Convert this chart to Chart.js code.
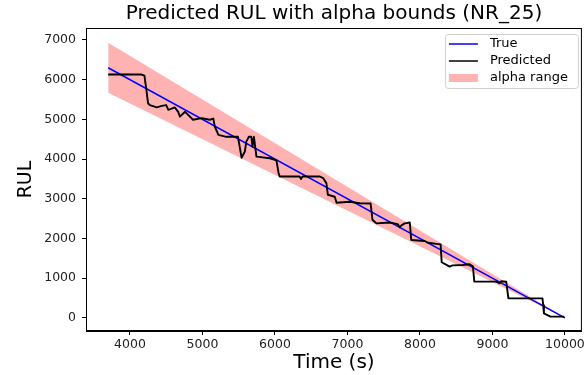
<!DOCTYPE html>
<html>
<head>
<meta charset="utf-8">
<script src="https://cdn.jsdelivr.net/npm/chart.js@4"></script>
<style>
    body { margin: 0; background: #fff; }
    #wrap { width: 587px; height: 375px; }
</style>
</head>
<body>
<div id="wrap"><canvas id="rulChart" width="587" height="375"></canvas></div>
<script>
// values
const predTime = [3700, 4160, 4200, 4230, 4250, 4275, 4370, 4440, 4500, 4530, 4620, 4665, 4690, 4760, 4810, 4870, 4990, 5100, 5150, 5170, 5220, 5330, 5490, 5540, 5585, 5605, 5640, 5675, 5690, 5710, 5745, 5930, 6020, 6050, 6065, 6340, 6360, 6380, 6620, 6665, 6710, 6730, 6825, 6850, 7030, 7170, 7320, 7345, 7400, 7580, 7695, 7720, 7745, 7790, 7860, 7880, 8065, 8110, 8285, 8300, 8410, 8450, 8590, 8685, 8730, 8750, 9050, 9095, 9120, 9190, 9220, 9550, 9690, 9700, 9710, 9800, 9990];
const predRul = [6130, 6130, 6100, 5700, 5400, 5360, 5300, 5340, 5360, 5240, 5300, 5190, 5070, 5190, 5100, 4990, 5030, 4990, 5020, 4820, 4610, 4560, 4560, 4030, 4190, 4440, 4560, 4560, 4310, 4560, 4060, 4020, 3970, 3650, 3560, 3560, 3500, 3560, 3560, 3520, 3390, 3100, 3050, 2900, 2925, 2885, 2880, 2470, 2380, 2400, 2360, 2280, 2330, 2380, 2400, 1960, 1935, 1890, 1850, 1400, 1290, 1320, 1330, 1350, 1300, 910, 910, 870, 920, 910, 490, 490, 490, 320, 110, 30, 30];

const trueTime = [3700, 10000];
const trueRul = [6300, 0];

const bandTime = [3700, 10000];
const bandUpper = [6930, 0];
const bandLower = [5670, 0];

const xTicks = [4000, 5000, 6000, 7000, 8000, 9000, 10000];
const yTicks = [0, 1000, 2000, 3000, 4000, 5000, 6000, 7000];

const FONT = "'DejaVu Sans', sans-serif";

function toPoints(xs, ys) {
    return xs.map((x, i) => ({ x: x, y: ys[i] }));
}

// black frame round the plot area, like matplotlib
const framePlugin = {
    id: 'frame',
    afterDatasetsDraw(chart) {
        const { ctx, chartArea: a } = chart;
        ctx.save();
        ctx.strokeStyle = '#000';
        ctx.lineWidth = 1;
        ctx.strokeRect(a.left + 0.5, a.top + 0.5, a.right - a.left - 1, a.bottom - a.top - 1);
        ctx.restore();
    }
};

// legend box in the upper right corner
const legendPlugin = {
    id: 'boxLegend',
    afterDraw(chart) {
        const { ctx, chartArea: a } = chart;
        const items = [
            { label: 'True', type: 'line', color: '#0000ff' },
            { label: 'Predicted', type: 'line', color: '#000000' },
            { label: 'alpha range', type: 'patch', color: 'rgba(255, 0, 0, 0.3)' }
        ];
        const boxX = a.right - 137;
        const boxY = a.top + 6;
        const boxW = 133;
        const boxH = 54;
        ctx.save();
        ctx.fillStyle = 'rgba(255, 255, 255, 0.8)';
        ctx.strokeStyle = '#d0d0d0';
        ctx.lineWidth = 1;
        ctx.beginPath();
        ctx.roundRect(boxX + 0.5, boxY + 0.5, boxW, boxH, 3);
        ctx.fill();
        ctx.stroke();
        ctx.font = '13px ' + FONT;
        ctx.textBaseline = 'middle';
        items.forEach((item, i) => {
            const y = boxY + 10 + i * 17;
            if (item.type === 'line') {
                ctx.strokeStyle = item.color;
                ctx.lineWidth = 1.5;
                ctx.beginPath();
                ctx.moveTo(boxX + 4, y);
                ctx.lineTo(boxX + 33, y);
                ctx.stroke();
            } else {
                ctx.fillStyle = item.color;
                ctx.fillRect(boxX + 4, y - 4, 29, 8);
            }
            ctx.fillStyle = '#000';
            ctx.fillText(item.label, boxX + 45, y);
        });
        ctx.restore();
    }
};

function renderChart() {
    const ctx = document.getElementById('rulChart').getContext('2d');
    new Chart(ctx, {
        type: 'line',
        data: {
            datasets: [
                {
                    label: 'Predicted',
                    data: toPoints(predTime, predRul),
                    borderColor: '#000',
                    borderWidth: 1.9,
                    borderJoinStyle: 'round',
                    pointRadius: 0,
                    fill: false,
                    order: 0
                },
                {
                    label: 'True',
                    data: toPoints(trueTime, trueRul),
                    borderColor: '#0000ff',
                    borderWidth: 1.5,
                    pointRadius: 0,
                    fill: false,
                    order: 1
                },
                {
                    label: 'alpha lower',
                    data: toPoints(bandTime, bandLower),
                    borderWidth: 0,
                    borderColor: 'rgba(0,0,0,0)',
                    pointRadius: 0,
                    fill: false,
                    order: 3
                },
                {
                    label: 'alpha range',
                    data: toPoints(bandTime, bandUpper),
                    borderWidth: 0,
                    borderColor: 'rgba(0,0,0,0)',
                    backgroundColor: 'rgba(255, 0, 0, 0.3)',
                    pointRadius: 0,
                    fill: '-1',
                    order: 2
                }
            ]
        },
        options: {
            responsive: false,
            animation: false,
            layout: { padding: { left: 0, right: 4, top: 0, bottom: 0 } },
            plugins: {
                legend: { display: false },
                tooltip: { enabled: false },
                title: {
                    display: true,
                    fullSize: false,
                    text: 'Predicted RUL with alpha bounds (NR_25)',
                    color: '#000',
                    font: { family: FONT, size: 20, weight: 'normal' },
                    padding: { top: 2, bottom: 2 }
                }
            },
            scales: {
                x: {
                    type: 'linear',
                    min: 3394,
                    max: 10234,
                    afterBuildTicks: scale => { scale.ticks = xTicks.map(v => ({ value: v })); },
                    afterFit: scale => { scale.height = 44; },
                    grid: { drawOnChartArea: false, drawTicks: true, tickLength: 4, color: '#000' },
                    border: { display: true, color: '#000' },
                    ticks: {
                        color: '#222',
                        font: { family: FONT, size: 12.5 },
                        padding: 2,
                        maxRotation: 0,
                        callback: v => String(v)
                    },
                    title: {
                        display: true,
                        text: 'Time (s)',
                        color: '#000',
                        font: { family: FONT, size: 20 },
                        padding: { top: 1, bottom: 0 }
                    }
                },
                y: {
                    min: -333,
                    max: 7302,
                    afterBuildTicks: scale => { scale.ticks = yTicks.map(v => ({ value: v })); },
                    afterFit: scale => { scale.width = 86; },
                    grid: { drawOnChartArea: false, drawTicks: true, tickLength: 4, color: '#000' },
                    border: { display: true, color: '#000' },
                    ticks: {
                        color: '#222',
                        font: { family: FONT, size: 12.5 },
                        padding: 6,
                        callback: v => String(v)
                    },
                    title: {
                        display: true,
                        text: 'RUL',
                        color: '#000',
                        font: { family: FONT, size: 19 },
                        padding: { top: 15, bottom: 0 }
                    }
                }
            }
        },
        plugins: [framePlugin, legendPlugin]
    });
}

document.addEventListener('DOMContentLoaded', renderChart);
</script>
</body>
</html>
